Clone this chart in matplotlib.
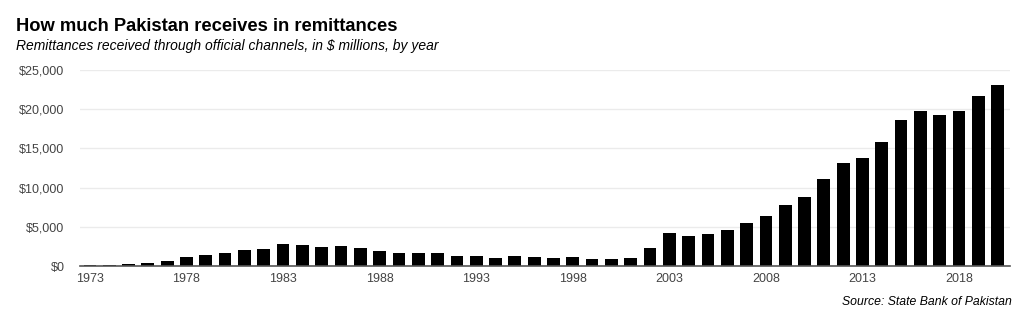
import matplotlib
matplotlib.use("Agg")
import matplotlib.pyplot as plt
from matplotlib.ticker import FuncFormatter

plt.rcParams['font.family'] = ['Liberation Sans', 'DejaVu Sans']

# remittances by year, $ millions
years = list(range(1973, 2021))
remit = [150, 150, 250, 340, 600, 1150, 1400, 1700, 2090, 2210,
         2850, 2720, 2430, 2600, 2250, 1960, 1700, 1700, 1620, 1230,
         1230, 1060, 1280, 1190, 1060, 1190, 850, 890, 980, 2340,
         4170, 3790, 4130, 4550, 5490, 6430, 7790, 8850, 11150, 13150,
         13830, 15830, 18680, 19830, 19320, 19830, 21700, 23060]
yticks = [0, 5000, 10000, 15000, 20000, 25000]
xticks = [1973, 1978, 1983, 1988, 1993, 1998, 2003, 2008, 2013, 2018]

fig = plt.figure(figsize=(10.24, 3.24), dpi=100)
ax = fig.add_axes([0.078, 0.179, 0.908, 0.605])

ax.bar(years, remit, width=0.66, color='black', zorder=3)

ax.set_xlim(1972.48, 2020.62)
ax.set_ylim(0, 25000)
ax.set_yticks(yticks)
ax.yaxis.set_major_formatter(FuncFormatter(lambda v, p: '${:,.0f}'.format(v)))
ax.set_xticks(xticks)
ax.tick_params(axis='both', length=0, labelsize=9, labelcolor='#444444')
ax.tick_params(axis='y', pad=11)
ax.tick_params(axis='x', pad=5)
ax.grid(axis='y', color='#ebebeb', linewidth=1, zorder=0)
for s in ['top', 'right', 'left']:
    ax.spines[s].set_visible(False)
ax.spines['bottom'].set_color('#555555')
ax.spines['bottom'].set_linewidth(1.2)
ax.spines['bottom'].set_zorder(4)

fig.text(0.016, 0.905, 'How much Pakistan receives in remittances',
         fontsize=13.2, fontweight='bold', color='black')
fig.text(0.016, 0.845, 'Remittances received through official channels, in $ millions, by year',
         fontsize=10, style='italic', color='black')
fig.text(0.988, 0.058, 'Source: State Bank of Pakistan',
         fontsize=8.8, style='italic', color='black', ha='right')

fig.savefig('out.png', dpi=100)
